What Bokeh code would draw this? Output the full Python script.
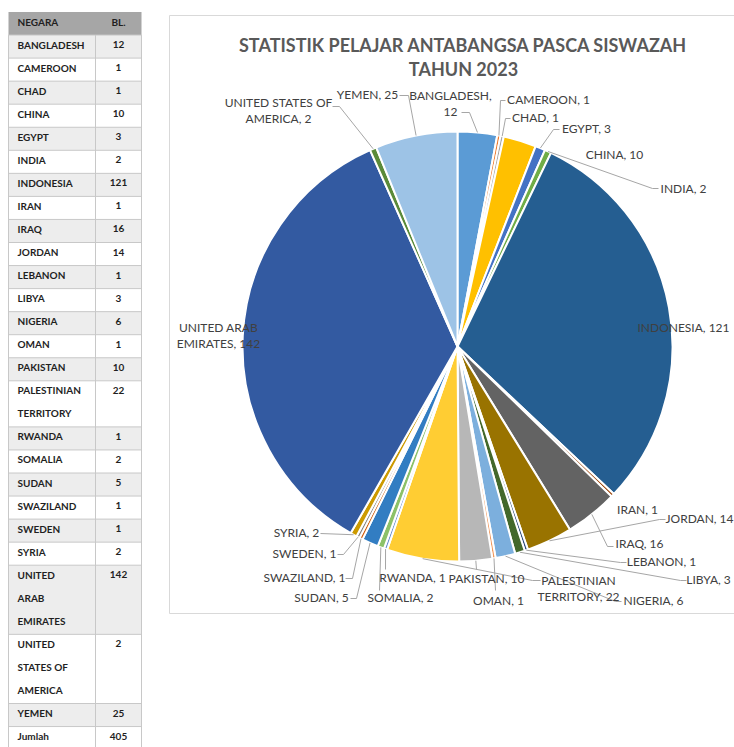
import math
from bokeh.plotting import figure
from bokeh.models import Range1d, ColumnDataSource
from bokeh.embed import file_html
from bokeh.resources import INLINE
from bokeh.core.properties import value

# ------------------------------------------------------------------ data
countries = ["BANGLADESH", "CAMEROON", "CHAD", "CHINA", "EGYPT", "INDIA",
             "INDONESIA", "IRAN", "IRAQ", "JORDAN", "LEBANON", "LIBYA",
             "NIGERIA", "OMAN", "PAKISTAN", "PALESTINIAN TERRITORY", "RWANDA",
             "SOMALIA", "SUDAN", "SWAZILAND", "SWEDEN", "SYRIA",
             "UNITED ARAB EMIRATES", "UNITED STATES OF AMERICA", "YEMEN"]
students = [12, 1, 1, 10, 3, 2, 121, 1, 16, 14, 1, 3, 6, 1, 10, 22, 1, 2, 5,
            1, 1, 2, 142, 2, 25]
table_header = ["NEGARA", "BL."]
total_label = "Jumlah"
title_lines = ["STATISTIK PELAJAR ANTABANGSA PASCA SISWAZAH", "TAHUN 2023"]

# how long names wrap inside the table cells
table_wrap = {"PALESTINIAN TERRITORY": ["PALESTINIAN", "TERRITORY"],
              "UNITED ARAB EMIRATES": ["UNITED", "ARAB", "EMIRATES"],
              "UNITED STATES OF AMERICA": ["UNITED", "STATES OF", "AMERICA"]}
# chart data labels: break after n words
label_break = {"BANGLADESH": 1, "PALESTINIAN TERRITORY": 1,
               "UNITED ARAB EMIRATES": 2, "UNITED STATES OF AMERICA": 3}

# ------------------------------------------------------------------ style / layout
slice_colors = ["#5B9BD5", "#ED7D31", "#A5A5A5", "#FFC000", "#4472C4", "#70AD47",
                "#255E91", "#9E480E", "#636363", "#997300", "#264478", "#43682B",
                "#7CAFDD", "#F1975A", "#B7B7B7", "#FFCD33", "#698ED0", "#8CC168",
                "#327DC2", "#D26012", "#848484", "#CC9A00", "#335AA1", "#5A8A39",
                "#9DC3E6"]
# label text centre (page px) and leader stub points
label_layout = {
    "BANGLADESH": (450, 103, "center", [(461, 112), (469, 112)]),
    "CAMEROON": (548, 99, "center", [(505, 100), (500, 100)]),
    "CHAD": (535, 117, "center", [(510, 118), (505, 118)]),
    "CHINA": (614, 154, "center", []),
    "EGYPT": (586, 128, "center", [(559, 129), (553, 129)]),
    "INDIA": (683, 188, "center", [(658, 188), (652, 188)]),
    "INDONESIA": (637, 327, "left", []),
    "IRAN": (637, 509, "center", []),
    "IRAQ": (639, 543, "center", [(613, 546), (607, 546)]),
    "JORDAN": (699, 518, "center", [(665, 519), (659, 519)]),
    "LEBANON": (661, 561, "center", [(626, 562), (620, 562)]),
    "LIBYA": (708, 579, "center", [(686, 580), (680, 580)]),
    "NIGERIA": (653, 600, "center", [(621, 601), (615, 601)]),
    "OMAN": (498, 600, "center", [(495, 590)]),
    "PAKISTAN": (486, 578, "center", [(476, 569)]),
    "PALESTINIAN TERRITORY": (578, 588, "center", [(540, 580), (532, 580)]),
    "RWANDA": (412, 577, "center", [(385, 569)]),
    "SOMALIA": (400, 597, "center", [(379, 590)]),
    "SUDAN": (321, 597, "center", [(350, 598), (356, 598)]),
    "SWAZILAND": (304, 577, "center", [(345, 578), (352, 578)]),
    "SWEDEN": (304, 553, "center", [(337, 554), (343, 554)]),
    "SYRIA": (296, 532, "center", [(320, 533)]),
    "UNITED ARAB EMIRATES": (218, 335, "center", []),
    "UNITED STATES OF AMERICA": (278, 110, "center", [(332, 106), (339, 106)]),
    "YEMEN": (367, 94, "center", [(399, 95), (408, 95)]),
}

W, H = 734, 747
PIE_X, PIE_Y, PIE_R = 457, 346, 215
FONT = "Lato"


def Y(py):  # page y (down) -> data y
    return -py


p = figure(width=W, height=H, x_range=Range1d(0, W), y_range=Range1d(-H, 0),
           output_backend="svg", toolbar_location=None, min_border=0,
           background_fill_color="white", border_fill_color="white")
p.outline_line_color = None
p.xaxis.visible = False
p.yaxis.visible = False
p.grid.visible = False

# ------------------------------------------------------------------ table
T_LEFT, T_MID, T_RIGHT, T_TOP, LINE_H, TXT_OFF = 8, 95, 141, 11.5, 23.05, -2.0
rows = [(table_header[0], [table_header[0]], table_header[1])]
for c, v in zip(countries, students):
    rows.append((c, table_wrap.get(c, [c]), str(v)))
rows.append((total_label, [total_label], str(sum(students))))

q_top, q_bot, q_col = [], [], []
name_x, name_y, name_t = [], [], []
val_x, val_y, val_t = [], [], []
hl_y = [T_TOP]
y = T_TOP
for i, (key, lines, val) in enumerate(rows):
    top = y
    bot = y + LINE_H * len(lines)
    q_top.append(Y(top)); q_bot.append(Y(bot))
    if i == 0:
        q_col.append("#A6A6A6")
    elif i == len(rows) - 1:
        q_col.append("#FFFFFF")
    else:
        q_col.append("#EDEDED" if i % 2 == 1 else "#FFFFFF")
    for k, ln in enumerate(lines):
        name_x.append(T_LEFT + 9); name_y.append(Y(top + LINE_H * (k + 0.5) + TXT_OFF)); name_t.append(ln)
    val_x.append((T_MID + T_RIGHT) / 2); val_y.append(Y(top + LINE_H * 0.5 + TXT_OFF)); val_t.append(val)
    y = bot
    hl_y.append(bot)

p.quad(left=T_LEFT, right=T_RIGHT, top=q_top, bottom=q_bot, fill_color=q_col, line_color=None)
p.multi_line(xs=[[T_LEFT, T_RIGHT] for _ in hl_y[1:]], ys=[[Y(v), Y(v)] for v in hl_y[1:]],
             line_color="#C8C8C8", line_width=1)
p.multi_line(xs=[[x, x] for x in (T_LEFT, T_MID, T_RIGHT)],
             ys=[[Y(T_TOP + LINE_H), Y(hl_y[-1])] for _ in range(3)],
             line_color="#C8C8C8", line_width=1)
p.text(x=name_x, y=name_y, text=name_t, text_font=value(FONT), text_font_style="bold",
       text_font_size="10px", text_color="#1F1F1F", text_baseline="middle", text_align="left")
p.text(x=val_x, y=val_y, text=val_t, text_font=value(FONT), text_font_style="bold",
       text_font_size="10px", text_color="#1F1F1F", text_baseline="middle", text_align="center")

# ------------------------------------------------------------------ chart frame + title
BX0, BY0, BY1 = 169, 15, 613
p.multi_line(xs=[[W + 5, BX0, BX0, W + 5]], ys=[[Y(BY0), Y(BY0), Y(BY1), Y(BY1)]],
             line_color="#D9D9D9", line_width=1)
p.text(x=[463, 463], y=[Y(44), Y(68)], text=title_lines, text_font=value(FONT),
       text_font_style="bold", text_font_size="18px", text_color="#595959",
       text_align="center", text_baseline="middle")

# ------------------------------------------------------------------ pie
total = sum(students)
cum = [0]
for v in students:
    cum.append(cum[-1] + v)
start = [math.pi / 2 - 2 * math.pi * cum[i] / total for i in range(len(students))]
end = [math.pi / 2 - 2 * math.pi * cum[i + 1] / total for i in range(len(students))]
src = ColumnDataSource(dict(start=start, end=end, color=slice_colors, name=countries, val=students))
p.wedge(x=PIE_X, y=Y(PIE_Y), radius=PIE_R, radius_units="screen", start_angle="start",
        end_angle="end", direction="clock", fill_color="color", line_color="white",
        line_width=2, source=src)

# ------------------------------------------------------------------ labels + leaders
lx, ly, lt, la = [], [], [], []
lead_xs, lead_ys = [], []
for i, (c, v) in enumerate(zip(countries, students)):
    words = f"{c}, {v}".split(" ")
    n = label_break.get(c)
    txt = " ".join(words) if n is None else " ".join(words[:n]) + "\n" + " ".join(words[n:])
    tx, ty, al, stub = label_layout[c]
    lx.append(tx); ly.append(Y(ty)); lt.append(txt); la.append(al)
    if stub:
        mid = 2 * math.pi * (cum[i] + v / 2) / total
        px = PIE_X + PIE_R * math.sin(mid)
        py = PIE_Y - PIE_R * math.cos(mid)
        lead_xs.append([s[0] for s in stub] + [px])
        lead_ys.append([Y(s[1]) for s in stub] + [Y(py)])

p.multi_line(xs=lead_xs, ys=lead_ys, line_color="#A6A6A6", line_width=1)
lsrc = ColumnDataSource(dict(x=lx, y=ly, t=lt, a=la))
p.text(x="x", y="y", text="t", text_align="a", source=lsrc, text_font=value(FONT),
       text_font_size="12px", text_color="#404040", text_baseline="middle",
       text_line_height=1.08)

open("out.html", "w").write(file_html(p, INLINE))
